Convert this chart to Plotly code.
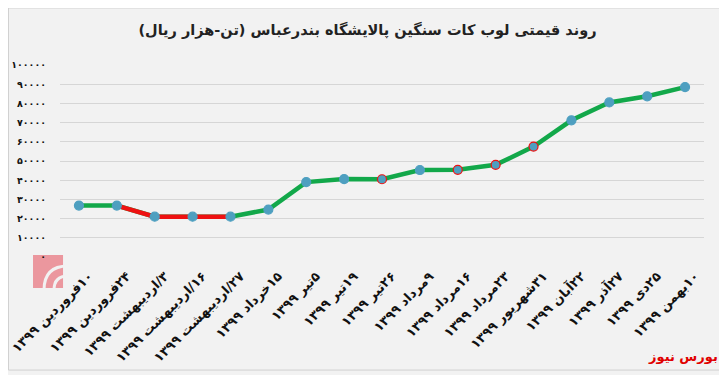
import plotly.graph_objects as go

categories = ["۱۰فروردین ۱۳۹۹", "۲۴فروردین ۱۳۹۹", "۳/اردیبهشت ۱۳۹۹", "۱۶/اردیبهشت ۱۳۹۹",
              "۲۷/اردیبهشت ۱۳۹۹", "۱۵خرداد ۱۳۹۹", "۵تیر ۱۳۹۹", "۱۹تیر ۱۳۹۹", "۲۶تیر ۱۳۹۹",
              "۹مرداد ۱۳۹۹", "۱۶مرداد ۱۳۹۹", "۲۳مرداد ۱۳۹۹", "۳۱شهریور ۱۳۹۹", "۲۲آبان ۱۳۹۹",
              "۲۷آذر ۱۳۹۹", "۲۵دی ۱۳۹۹", "۱۰بهمن ۱۳۹۹"]
prices = [26800, 26800, 21000, 21000, 21000, 24700, 39000, 40600, 40500,
          45300, 45400, 48000, 57500, 71200, 80500, 83700, 88500]
red_segment = [1, 2, 3, 4]          # indices drawn in red
red_outline = [8, 10, 11, 12]       # markers with red outline
y_tickvals = [0, 10000, 20000, 30000, 40000, 50000, 60000, 70000, 80000, 90000, 100000]
y_ticktext = ["۰", "۱۰۰۰۰", "۲۰۰۰۰", "۳۰۰۰۰", "۴۰۰۰۰", "۵۰۰۰۰", "۶۰۰۰۰", "۷۰۰۰۰", "۸۰۰۰۰", "۹۰۰۰۰", "۱۰۰۰۰۰"]

x = list(range(len(categories)))
GREEN = "#12A84A"
RED = "#EE1111"
MARK = "#4E9FC0"
PINK = "rgba(232,120,130,0.75)"
FONT = "DejaVu Sans"
RLE, PDF = "\u202b", "\u202c"

fig = go.Figure()
fig.add_trace(go.Scatter(x=x, y=prices, mode="lines",
                         line=dict(color=GREEN, width=4.5), hoverinfo="skip"))
fig.add_trace(go.Scatter(x=[x[i] for i in red_segment], y=[prices[i] for i in red_segment],
                         mode="lines", line=dict(color=RED, width=4.5), hoverinfo="skip"))
line_colors = [RED if i in red_outline else MARK for i in x]
fig.add_trace(go.Scatter(x=x, y=prices, mode="markers",
                         marker=dict(size=9, color=MARK, line=dict(color=line_colors, width=1.2))))

fig.update_layout(
    width=719, height=367,
    margin=dict(l=52, r=23, t=57, b=118, autoexpand=False),
    paper_bgcolor="#F2F2F2", plot_bgcolor="#F2F2F2",
    showlegend=False,
    font=dict(family=FONT, color="#222222"),
    title=dict(text="<b>روند قیمتی لوب کات سنگین پالایشگاه بندرعباس (تن-هزار ریال)</b>",
               x=0.5, xanchor="center", y=0.94, yanchor="middle",
               font=dict(family=FONT, size=14.5, color="#222222")),
    xaxis=dict(range=[-0.5, len(categories) - 0.5], tickvals=x,
               ticktext=["<b>" + RLE + c + PDF + "</b>" for c in categories],
               tickangle=-45, showgrid=False, zeroline=False, showline=False, automargin=False,
               ticklabelshift=10, ticklabelstandoff=8,
               tickfont=dict(family=FONT, size=13, color="#111111"), ticks=""),
    yaxis=dict(range=[0, 100000], tickvals=y_tickvals, ticktext=["<b>" + t + "</b>" for t in y_ticktext],
               showgrid=True, gridcolor="#D6D6D6", gridwidth=1, zeroline=False,
               showline=False, ticks="", ticklabelstandoff=13, automargin=False,
               tickfont=dict(family=FONT, size=9.5, color="#111111")),
    shapes=[
        dict(type="rect", xref="paper", yref="paper", x0=-0.08, x1=1.028, y0=-0.589, y1=1.297,
             line=dict(color="#D0D0D0", width=1), fillcolor="rgba(0,0,0,0)"),
        # rough watermark logo (bottom-left)
        dict(type="rect", xref="paper", yref="paper", x0=-0.0419, x1=0.0047, y0=-0.1615, y1=0.0104,
             line=dict(width=0), fillcolor=PINK, layer="below"),
        dict(type="path", xref="paper", yref="paper", layer="below",
             path="M 0.0124,-0.099 Q -0.0093,-0.099 -0.0093,-0.172",
             line=dict(color="#F2F2F2", width=3)),
        dict(type="path", xref="paper", yref="paper", layer="below",
             path="M 0.0124,-0.047 Q -0.0248,-0.047 -0.0248,-0.172",
             line=dict(color="#F2F2F2", width=3)),
    ],
    annotations=[dict(text="<b>بورس نیوز</b>", xref="paper", yref="paper", x=1.025, y=-0.52,
                      xanchor="right", yanchor="middle", showarrow=False,
                      font=dict(family=FONT, size=13, color="#E00000"))],
)

fig.write_html("out.html")
